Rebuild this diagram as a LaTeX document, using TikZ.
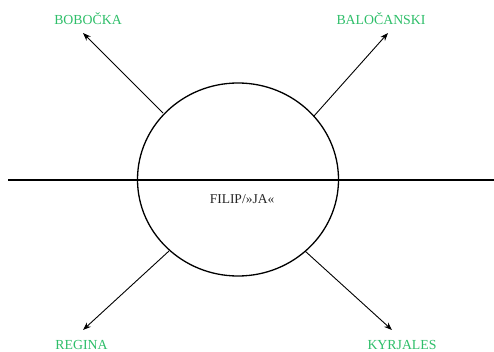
\documentclass[tikz,border=0pt]{standalone}
\usepackage{fontspec}
\setmainfont{Liberation Serif}
\usetikzlibrary{arrows.meta,shapes.geometric}
\definecolor{lblgreen}{RGB}{46,190,105}
\tikzset{
  lbl/.style={text=lblgreen, font=\fontsize{13.8}{15}\selectfont, inner sep=0pt},
  arr/.style={-{Stealth[length=8pt,width=6pt]}, line width=0.9pt},
}
\begin{document}
\begin{tikzpicture}[x=1pt,y=-1pt]
\useasboundingbox (0,0) rectangle (494,352);
\draw[line width=1.2pt] (8,180) -- (494,180);
\node[draw, ellipse, line width=1.3pt, minimum width=201pt, minimum height=193pt, inner sep=0pt] (c) at (238,179.5) {};
\node[font=\fontsize{13.5}{15}\selectfont, text=black!85, inner sep=0pt] (f) at (242,199) {FILIP/»JA«};
\node[lbl] (b1) at (88,19) {BOBOČKA};
\node[lbl] (b2) at (381,19) {BALOČANSKI};
\node[lbl] (b3) at (81.5,345) {REGINA};
\node[lbl] (b4) at (402,345) {KYRJALES};
\coordinate (s1) at (163,113);
\coordinate (s2) at (314,116);
\coordinate (s3) at (169,251);
\coordinate (s4) at (305,251);
\coordinate (e1) at (83,33);
\coordinate (e2) at (388,33);
\coordinate (e3) at (83,330);
\coordinate (e4) at (392,330);
\draw[arr] (s1) -- (e1);
\draw[arr] (s2) -- (e2);
\draw[arr] (s3) -- (e3);
\draw[arr] (s4) -- (e4);
\end{tikzpicture}
\end{document}
